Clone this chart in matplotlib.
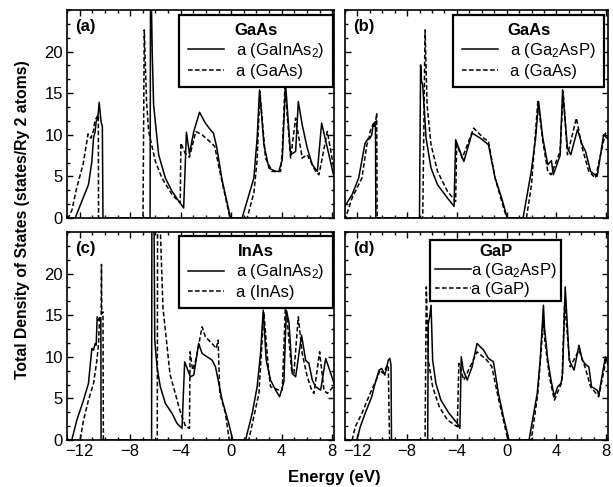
import matplotlib
matplotlib.use("Agg")
import matplotlib.pyplot as plt
from matplotlib.ticker import MultipleLocator, AutoMinorLocator, FixedLocator

plt.rcParams['font.family'] = ['Liberation Sans', 'DejaVu Sans']
plt.rcParams['mathtext.fontset'] = 'custom'
plt.rcParams['mathtext.rm'] = 'Liberation Sans'
plt.rcParams['mathtext.default'] = 'regular'

# (a) GaAs: a(GaInAs2) solid, a(GaAs) dashed
e_a_sol = [-13.0, -12.35, -11.83, -11.3, -11.03, -10.9, -10.77, -10.69, -10.56, -10.45, -10.3, -10.2, -10.15,
           -6.42, -6.38, -6.25, -6.14, -5.74, -5.21, -4.68, -3.76, -3.54, -3.3, -2.96, -2.5, -2.04, -1.64, -1.4, -1.14, -0.72, -0.05,
           0.87, 1.8, 2.06, 2.25, 2.6, 2.99, 3.5, 3.78, 4.05, 4.31, 4.71, 5.11, 5.32, 5.63, 6.03, 6.43, 6.83, 7.17, 8.2]
d_a_sol = [0, 0, 2.0, 4.0, 6.8, 9.6, 10.4, 11.6, 12.0, 13.9, 11.5, 11.0, 0,
           0, 32, 20, 13.6, 7.6, 4.8, 3.2, 1.2, 10.3, 7.7, 10.4, 12.7, 11.4, 10.6, 10.2, 8.5, 4.6, 0,
           0, 4.8, 9.6, 15.4, 8.8, 6.0, 5.6, 5.6, 7.0, 16.2, 7.6, 8.0, 14.0, 11.2, 8.4, 6.4, 5.6, 11.4, 4.6]
e_a_dash = [-13.0, -12.9, -12.6, -12.25, -11.72, -11.33, -11.1, -10.9, -10.79, -10.6, -10.52, -10.5,
            -6.98, -6.88, -6.7, -6.53, -6.0, -5.48, -4.68, -4.03, -3.98, -3.65, -3.3, -2.8, -2.3, -1.7, -1.3, -0.87, -0.32, -0.1,
            1.27, 1.8, 2.06, 2.28, 2.72, 3.25, 3.92, 4.05, 4.26, 4.71, 5.11, 5.63, 6.03, 6.69, 6.96, 7.62, 8.2]
d_a_dash = [0, 0, 1.0, 3.5, 6.5, 10.1, 9.6, 10.5, 11.7, 12.2, 12.4, 0,
            0, 22.6, 14.0, 10.4, 6.8, 4.8, 2.8, 1.8, 9.0, 7.8, 7.3, 10.4, 10.0, 9.2, 8.6, 5.4, 1.6, 0,
            0, 3.0, 7.0, 15.2, 7.2, 5.6, 5.6, 8.0, 15.8, 7.2, 12.0, 7.2, 7.6, 5.6, 5.2, 10.4, 5.4]

# (b) GaAs: a(Ga2AsP) solid, a(GaAs) dashed
e_b_sol = [-13.1, -12.43, -11.9, -11.51, -11.38, -11.11, -10.98, -10.85, -10.71, -10.62, -10.55, -10.52,
           -7.01, -6.92, -6.85, -6.75, -6.48, -6.08, -5.56, -4.76, -4.23, -4.1, -3.44, -2.78, -2.12, -1.46, -0.93, -0.4, 0.05,
           1.32, 1.98, 2.33, 2.57, 2.91, 3.31, 3.6, 3.75, 4.3, 4.5, 4.89, 5.16, 5.69, 6.08, 6.35, 6.75, 7.28, 7.8, 8.2]
d_b_sol = [1.2, 2.8, 4.8, 8.0, 9.0, 9.6, 9.6, 10.0, 11.4, 11.0, 11.6, 0,
           0, 18.4, 16.5, 16.0, 9.6, 6.0, 4.0, 2.4, 1.4, 9.4, 6.8, 10.2, 9.6, 8.8, 4.8, 2.4, 0,
           0, 5.6, 9.6, 14.0, 9.6, 6.4, 6.9, 5.2, 7.5, 15.4, 8.4, 7.6, 10.6, 8.8, 8.0, 5.6, 5.0, 10.0, 9.4]
e_b_dash = [-13.0, -12.96, -12.43, -11.64, -11.24, -11.06, -10.98, -10.77, -10.6, -10.45, -10.42,
            -6.75, -6.56, -6.4, -6.08, -5.56, -4.76, -4.1, -4.02, -3.57, -2.65, -1.85, -1.46, -0.93, -0.3, 0.0,
            1.59, 2.0, 2.51, 2.91, 3.31, 3.57, 4.3, 4.55, 4.89, 5.61, 6.08, 6.61, 7.14, 7.94, 8.2]
d_b_dash = [0.3, 0, 2.4, 4.8, 8.8, 9.6, 10.4, 11.2, 10.8, 12.6, 0,
            0, 22.6, 13.6, 8.8, 5.6, 3.2, 2.0, 8.8, 7.2, 10.8, 9.6, 9.2, 4.8, 1.5, 0,
            0, 4.0, 14.0, 9.2, 5.6, 5.2, 8.0, 15.2, 7.6, 12.0, 8.4, 5.6, 4.8, 10.2, 9.5]

# (c) InAs: a(GaInAs2) solid, a(InAs) dashed
e_c_sol = [-13.0, -12.62, -12.22, -11.69, -11.3, -11.11, -11.03, -10.9, -10.77, -10.69, -10.61, -10.5, -10.32, -10.3,
           -6.3, -6.27, -6.12, -6.05, -5.87, -5.61, -5.21, -4.68, -4.29, -3.89, -3.68, -3.23, -2.96, -2.57, -2.3, -1.9, -1.51, -1.24, -0.71, -0.19, 0.13,
           1.14, 1.67, 2.06, 2.33, 2.54, 2.78, 3.12, 3.52, 3.84, 4.18, 4.37, 4.58, 4.84, 5.11, 5.58, 5.9, 6.16, 6.43, 6.69, 7.09, 7.49, 8.2]
d_c_sol = [0, 0, 2.4, 4.8, 6.8, 9.8, 11.0, 10.8, 11.6, 11.4, 14.8, 14.4, 14.7, 0,
           0, 35, 30, 12, 8.8, 6.4, 4.4, 3.2, 2.0, 1.4, 9.4, 7.6, 7.8, 11.6, 10.4, 10.0, 9.6, 8.8, 4.8, 2.0, 0,
           0, 3.2, 6.4, 10.4, 15.6, 9.6, 7.2, 6.0, 5.2, 7.0, 15.6, 14.2, 8.0, 7.6, 12.6, 9.6, 9.2, 7.2, 6.4, 6.0, 9.8, 6.6]
e_c_dash = [-13.0, -11.96, -11.69, -11.3, -10.9, -10.63, -10.5, -10.42, -10.29, -10.27, -10.25, -10.15, -10.12,
            -5.85, -5.82, -5.6, -5.4, -4.84, -4.05, -3.6, -3.3, -3.25, -3.05, -2.8, -2.3, -2.04, -1.51, -1.19, -1.03, -0.9, -0.45, -0.15,
            1.4, 2.2, 2.59, 2.94, 3.12, 3.78, 4.05, 4.31, 4.79, 4.97, 5.32, 5.63, 6.03, 6.38, 6.56, 7.01, 7.35, 7.62, 8.2]
d_c_dash = [0, 0, 2.4, 4.8, 6.8, 9.6, 11.6, 14.6, 15.1, 21.1, 15.2, 15.4, 0,
            0, 35, 25, 15.9, 7.9, 3.5, 1.6, 1.4, 10.6, 8.4, 9.6, 13.6, 12.4, 11.6, 11.0, 12.0, 5.6, 3.2, 0,
            0, 5.6, 15.4, 8.8, 6.4, 6.0, 6.0, 16.6, 8.4, 8.0, 14.8, 10.4, 7.6, 6.0, 5.6, 10.6, 6.0, 5.6, 6.6]

# (d) GaP: a(Ga2AsP) solid, a(GaP) dashed
e_d_sol = [-13.0, -12.04, -11.77, -11.38, -10.85, -10.58, -10.26, -10.05, -9.79, -9.52, -9.39, -9.3, -9.26,
           -6.35, -6.3, -6.19, -6.08, -5.95, -5.69, -5.29, -4.63, -3.97, -3.76, -3.65, -3.49, -3.17, -2.78, -2.38, -1.85, -1.46, -1.06, -0.66, -0.26, 0.19,
           1.8, 2.46, 2.7, 2.96, 3.04, 3.31, 3.57, 3.84, 4.1, 4.37, 4.5, 4.71, 4.89, 5.03, 5.42, 5.82, 6.08, 6.4, 6.61, 6.83, 7.28, 7.41, 7.94, 8.2]
d_d_sol = [0, 0, 1.6, 3.2, 5.2, 6.8, 8.4, 8.6, 7.8, 9.6, 9.8, 9.0, 0,
           0, 14.0, 14.8, 16.2, 9.6, 6.8, 4.8, 3.2, 2.0, 1.4, 10.0, 8.4, 7.2, 8.8, 11.6, 10.8, 9.8, 9.4, 5.6, 2.8, 0,
           0, 5.6, 9.6, 16.2, 13.6, 9.6, 7.2, 5.2, 6.4, 6.8, 8.0, 18.4, 13.6, 9.6, 8.4, 11.4, 9.6, 9.0, 8.8, 6.4, 6.0, 5.4, 10.0, 9.0]
e_d_dash = [-13.0, -12.43, -12.17, -11.64, -10.98, -10.37, -10.19, -9.92, -9.66, -9.52, -9.42,
            -6.56, -6.46, -6.3, -5.95, -5.42, -4.76, -3.97, -3.84, -3.44, -2.38, -1.59, -1.19, -0.66, -0.26, 0.1,
            1.98, 2.51, 2.96, 3.07, 3.44, 3.84, 4.18, 4.45, 4.66, 5.11, 5.82, 6.3, 6.75, 7.41, 7.99, 8.2]
d_d_dash = [0, 0, 1.6, 3.2, 5.6, 7.6, 8.4, 8.0, 8.8, 9.0, 0,
            0, 18.4, 9.6, 6.4, 4.0, 2.4, 1.6, 9.2, 7.2, 10.6, 9.6, 8.8, 5.0, 2.4, 0,
            0, 5.6, 14.4, 12.0, 7.6, 4.8, 6.0, 7.0, 16.5, 8.8, 10.8, 8.8, 6.4, 5.2, 9.6, 9.0]

panels = [
    ("(a)", "GaAs", "a (GaInAs$_2$)", "a (GaAs)", e_a_sol, d_a_sol, e_a_dash, d_a_dash),
    ("(b)", "GaAs", "a (Ga$_2$AsP)", "a (GaAs)", e_b_sol, d_b_sol, e_b_dash, d_b_dash),
    ("(c)", "InAs", "a (GaInAs$_2$)", "a (InAs)", e_c_sol, d_c_sol, e_c_dash, d_c_dash),
    ("(d)", "GaP", "a (Ga$_2$AsP)", "a (GaP)", e_d_sol, d_d_sol, e_d_dash, d_d_dash),
]
y_labels = [0, 5, 10, 15, 20]

# axes boxes in figure fractions, and legend anchors
boxes = [[0.1093, 0.5524, 0.4356, 0.4271],
         [0.5628, 0.5524, 0.4290, 0.4271],
         [0.1093, 0.0965, 0.4356, 0.4271],
         [0.5628, 0.0965, 0.4290, 0.4271]]
leg_anchor = [(0.995, 0.978, 'upper right'), (0.985, 0.978, 'upper right'),
              (0.995, 0.982, 'upper right'), (0.325, 0.96, 'upper left')]

fig = plt.figure(figsize=(6.13, 4.87), dpi=100)

for i, (tag, title, lab1, lab2, es, ds, ed, dd) in enumerate(panels):
    ax = fig.add_axes(boxes[i])
    ax.plot(es, ds, color='black', lw=1.1, label=lab1)
    ax.plot(ed, dd, color='black', lw=1.1, ls=(0, (3, 1.6)), label=lab2)
    ax.set_xlim(-13, 8.15)
    ax.set_ylim(0, 25)
    ax.xaxis.set_major_locator(MultipleLocator(4))
    ax.xaxis.set_minor_locator(MultipleLocator(1))
    ax.yaxis.set_major_locator(FixedLocator(y_labels))
    ax.yaxis.set_minor_locator(FixedLocator([k * 5 / 3 for k in range(16)]))
    ax.tick_params(which='both', direction='in', top=True, right=True, labelsize=12, pad=3)
    ax.tick_params(which='major', length=4, width=1)
    ax.tick_params(which='minor', length=2.5, width=1)
    for s in ax.spines.values():
        s.set_linewidth(1.2)
    if i in (0, 1):
        ax.set_xticklabels([])
    if i in (1, 3):
        ax.set_yticklabels([])
    ax.text(0.03, 0.955, tag, transform=ax.transAxes, ha='left', va='top',
            fontsize=12, fontweight='bold')
    bx, by, lc = leg_anchor[i]
    if i == 3:
        leg = ax.legend(loc=lc, bbox_to_anchor=(bx, by), title=title, fontsize=12,
                        title_fontproperties={'weight': 'bold', 'size': 12},
                        fancybox=False, framealpha=1, edgecolor='black',
                        handlelength=2.2, handletextpad=0.0, borderpad=0.25,
                        labelspacing=0.1, borderaxespad=0)
    else:
        leg = ax.legend(loc=lc, bbox_to_anchor=(bx, by), title=title, fontsize=12,
                        title_fontproperties={'weight': 'bold', 'size': 12},
                        fancybox=False, framealpha=1, edgecolor='black',
                        handlelength=2.2, handletextpad=0.7, borderpad=0.5,
                        labelspacing=0.2, borderaxespad=0)
    leg.get_frame().set_linewidth(1.6)

fig.text(0.037, 0.548, "Total Density of States (states/Ry 2 atoms)", rotation=90,
         ha='center', va='center', fontsize=11.3, fontweight='bold')
fig.text(0.546, 0.02, "Energy (eV)", ha='center', va='center', fontsize=12, fontweight='bold')

fig.savefig("out.png", dpi=100)
